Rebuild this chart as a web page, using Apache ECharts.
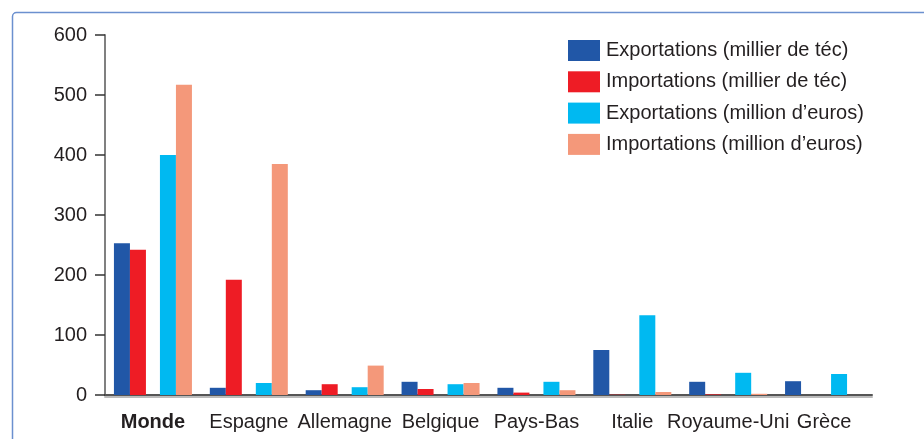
<!DOCTYPE html>
<html><head><meta charset="utf-8">
<script src="https://cdn.jsdelivr.net/npm/echarts@6/dist/echarts.min.js"></script>
<style>html,body{margin:0;padding:0;background:#fff}#c{width:924px;height:439px}</style>
</head><body><div id="c"></div>
<script>
var categories = ['Monde','Espagne','Allemagne','Belgique','Pays-Bas','Italie','Royaume-Uni','Grèce'];
var seriesNames = ['Exportations (millier de téc)','Importations (millier de téc)','Exportations (million d\u2019euros)','Importations (million d\u2019euros)'];
var exportTec = [253, 12, 8, 22, 12, 75, 22, 23];
var importTec = [242, 192, 18, 10, 4, 0.5, 1, 0];
var exportEur = [400, 20, 13, 18, 22, 133, 37, 35];
var importEur = [517, 385, 49, 20, 8, 5, 2, 0];
var yTicks = [0, 100, 200, 300, 400, 500, 600];
var colors = ['#2157a7','#ee1c25','#00b9f1','#f4987a'];

var chart = echarts.init(document.getElementById('c'));
var font = 'Liberation Sans, Arial, sans-serif';
function bar(name, data, color){
  return {name:name, type:'bar', data:data, barWidth:16, barGap:'0%', barCategoryGap:'0%',
    itemStyle:{color:color}, emphasis:{disabled:true}};
}
chart.setOption({
  animation:false,
  graphic:[{type:'rect', shape:{x:12.5,y:12.5,width:1000,height:1000,r:4}, style:{fill:'none',stroke:'#6b90cf',lineWidth:1.5}, z:-1}],
  grid:{left:105, right:52, top:35, bottom:44},
  legend:{orient:'vertical', left:568, top:40, padding:0, itemWidth:32, itemHeight:21, itemGap:10.3,
    icon:'rect', data:seriesNames, selectedMode:false,
    textStyle:{fontFamily:font, fontSize:20, color:'#231f20', padding:[0,0,0,1]}},
  xAxis:{type:'category', data:categories,
    axisLine:{lineStyle:{color:'#555', width:2, shadowColor:'#bbb', shadowOffsetY:2}},
    axisTick:{show:false},
    axisLabel:{fontFamily:font, fontSize:20, color:'#231f20', margin:17, interval:0,
      formatter:function(v){return v==='Monde' ? '{b|'+v+'}' : v;},
      rich:{b:{fontWeight:'bold', fontFamily:font, fontSize:20, color:'#231f20'}}}},
  yAxis:{type:'value', min:0, max:600, interval:100,
    splitLine:{show:false},
    axisLine:{show:true, lineStyle:{color:'#808080', width:2}},
    axisTick:{show:true, length:10, lineStyle:{color:'#333', width:1.5}},
    axisLabel:{fontFamily:font, fontSize:20, color:'#231f20', margin:18,
      formatter:function(v){return yTicks.indexOf(v)>=0 ? String(v) : '';}}},
  series:[
    bar(seriesNames[0], exportTec, colors[0]),
    bar(seriesNames[1], importTec, colors[1]),
    {name:'_gap', type:'bar', data:categories.map(function(){return '-';}), barWidth:14, silent:true},
    bar(seriesNames[2], exportEur, colors[2]),
    bar(seriesNames[3], importEur, colors[3])
  ]
});
</script></body></html>
